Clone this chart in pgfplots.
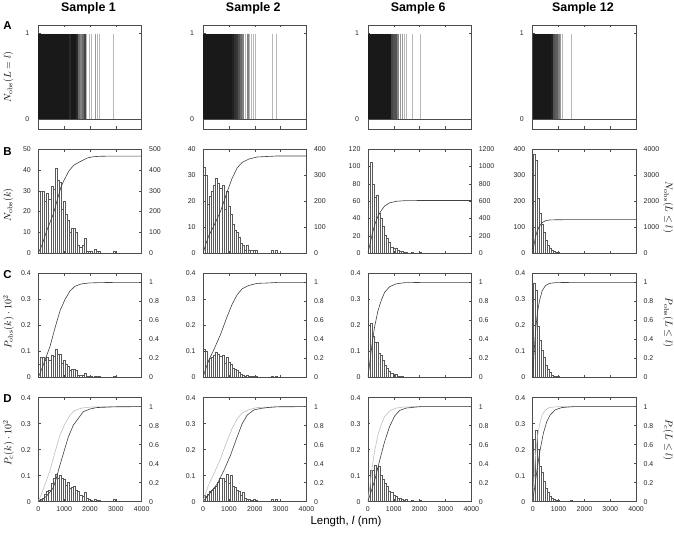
\documentclass[border=0pt]{standalone}
\usepackage[no-math]{fontspec}
\setmainfont{Liberation Sans}
\usepackage{pgfplots}
\usepackage{pgfplotstable}
\pgfplotsset{compat=1.18}

% ---------- histograms: bin centre, count (B), P_obs*100 (C), P_c*100 (D)
\pgfplotstableread{
x n pC pD
40 20 0.052 0.005
120 30 0.078 0.010
200 30 0.078 0.015
280 25 0.065 0.030
360 29 0.076 0.040
440 26 0.068 0.045
520 32 0.084 0.070
600 31 0.081 0.090
680 41 0.107 0.105
760 35 0.091 0.090
840 34 0.089 0.100
920 21 0.055 0.090
1000 25 0.065 0.085
1080 19 0.050 0.065
1160 16 0.042 0.075
1240 10 0.026 0.050
1320 12 0.031 0.055
1400 12 0.031 0.060
1480 10 0.026 0.045
1560 4 0.010 0.040
1640 3 0.008 0.025
1720 4 0.010 0.020
1800 7 0.018 0.035
1880 1 0.003 0.015
1960 1 0.003 0.010
2040 1 0.003 0.005
2200 2 0.005 0.010
2280 1 0.003 0.005
2360 1 0.003 0.005
2920 1 0.003 0.010
}\hA
\pgfplotstableread{
x n pC pD
40 33 0.109 0.025
120 30 0.099 0.020
200 19 0.063 0.030
280 22 0.073 0.040
360 24 0.079 0.045
440 26 0.086 0.050
520 29 0.096 0.060
600 27 0.089 0.075
680 25 0.083 0.090
760 26 0.086 0.090
840 17 0.056 0.080
920 24 0.079 0.105
1000 18 0.059 0.070
1080 15 0.050 0.100
1160 11 0.036 0.060
1240 9 0.030 0.055
1320 8 0.026 0.045
1400 6 0.020 0.040
1480 4 0.013 0.025
1560 3 0.010 0.035
1640 1 0.003 0.015
1720 3 0.010 0.010
1800 1 0.003 0.010
1880 1 0.003 0.005
1960 1 0.003 0.010
2040 1 0.003 0.005
2680 1 0.003 0.010
2840 1 0.003 0.010
}\hB
\pgfplotstableread{
x n pC pD
40 100 0.200 0.100
120 105 0.210 0.120
200 80 0.160 0.120
280 65 0.135 0.140
360 67 0.135 0.130
440 46 0.095 0.135
520 40 0.085 0.100
600 31 0.068 0.085
680 21 0.048 0.070
760 17 0.035 0.060
840 13 0.025 0.040
920 7 0.015 0.035
1000 6 0.012 0.025
1080 6 0.012 0.020
1160 3 0.006 0.015
1240 2 0.004 0.015
1320 2 0.004 0.010
1400 1 0.002 0.005
1480 1 0.002 0.010
1720 1 0.002 0.005
2040 1 0.002 0.005
}\hC
\pgfplotstableread{
x n pC pD
40 382 0.362 0.240
120 356 0.337 0.275
200 210 0.197 0.200
280 155 0.145 0.135
360 113 0.106 0.115
440 82 0.078 0.080
520 51 0.048 0.050
600 32 0.030 0.035
680 21 0.020 0.020
760 11 0.010 0.012
840 6 0.005 0.010
920 5 0.005 0.005
1000 3 0.003 0.005
1080 2 0.002 0.003
1160 1 0.001 0.003
1480 1 0.001 0.005
}\hD

% ---------- cumulative counts (B)
\pgfplotstableread{
x y
0 0
160 45
323 107
580 188
720 250
877 318
1000 352
1187 396
1380 424
1613 440
1900 458
2130 464
2400 466
2950 467
4000 467
}\bA
\pgfplotstableread{
x y
0 0
100 34
219 67
413 105
671 160
929 235
1123 288
1316 328
1510 349
1768 362
2090 370
2477 372
2700 373
2850 374
4000 374
}\bB
\pgfplotstableread{
x y
0 0
80 103
160 213
258 322
387 426
516 492
645 544
839 581
1097 599
1419 606
2065 608
4000 608
}\bC
\pgfplotstableread{
x y
0 0
52 329
103 606
181 877
258 1032
361 1174
490 1245
645 1277
903 1287
1480 1290
4000 1290
}\bD

% ---------- cumulative fractions, observed (C and grey curve in D)
\pgfplotstableread{
x y
0 0
130 0.085
258 0.18
452 0.325
645 0.52
839 0.70
1032 0.82
1226 0.91
1419 0.96
1677 0.985
2000 0.995
2400 0.998
2950 1
4000 1
}\fA
\pgfplotstableread{
x y
0 0
100 0.09
219 0.18
413 0.29
671 0.45
929 0.64
1123 0.77
1316 0.87
1510 0.933
1768 0.968
2090 0.99
2477 0.994
2700 0.997
2850 1
4000 1
}\fB
\pgfplotstableread{
x y
0 0
80 0.17
160 0.35
258 0.53
387 0.70
516 0.81
645 0.895
839 0.955
1097 0.985
1419 0.997
2065 1
4000 1
}\fC
\pgfplotstableread{
x y
0 0
52 0.255
103 0.47
181 0.68
258 0.80
361 0.91
490 0.965
645 0.99
903 0.998
1480 1
4000 1
}\fD

% ---------- cumulative fractions, corrected (black curve in D)
\pgfplotstableread{
x y
0 0
160 0.02
323 0.06
450 0.10
581 0.149
680 0.23
774 0.326
968 0.504
1161 0.68
1355 0.805
1548 0.876
1742 0.947
2000 0.975
2258 0.99
2950 0.998
4000 1
}\dA
\pgfplotstableread{
x y
0 0
284 0.096
542 0.184
800 0.326
1058 0.486
1316 0.68
1510 0.82
1703 0.91
1961 0.965
2219 0.98
2477 0.99
2865 0.998
4000 1
}\dB
\pgfplotstableread{
x y
0 0
129 0.11
258 0.22
452 0.43
645 0.63
839 0.79
1032 0.90
1226 0.96
1484 0.985
1871 0.996
2065 1
4000 1
}\dC
\pgfplotstableread{
x y
0 0
90 0.18
181 0.36
284 0.54
413 0.72
542 0.84
671 0.91
864 0.965
1123 0.99
1445 0.997
1600 1
4000 1
}\dD

\pgfplotsset{
  base/.style={scale only axis, width=103.4bp, height=104bp, anchor=south west,
    xmin=0, xmax=4000, xtick={0,1000,2000,3000,4000},
    tick align=inside, major tick length=2.5bp,
    axis line style={draw=black!70, line width=0.6bp},
    every tick/.style={draw=black!70, line width=0.45bp},
    tick label style={font=\fontsize{7}{8}\selectfont, text=black!85},
    /pgf/number format/assume math mode=true,
    /pgf/number format/1000 sep={}, scaled ticks=false},
  leftax/.style={base, ytick pos=left, xtick pos=both, axis on top,
    yticklabel style={xshift=-4bp}},
  rightax/.style={base, hide x axis, ytick pos=right,
    yticklabel style={xshift=4bp}},
  nox/.style={xticklabels={}},
  withx/.style={xticklabels={0,1000,2000,3000,4000}, xticklabel style={yshift=-1.3bp}},
  bars/.style={ybar, bar width=80, bar shift=0pt, draw=black!65, fill=white, line width=0.35bp},
  cum/.style={black!75, line width=0.6bp, mark=none},
  cumg/.style={black!25, line width=0.6bp, mark=none},
  lines/.style={scatter, only marks, mark=|, mark size=42.62bp,
    scatter/use mapped color={draw=mapped color, fill=mapped color},
    point meta={min(\thisrow{n},12)}},
}

\newcommand\panelA[2]{%
\begin{axis}[base, at={(#1bp,405bp)}, ymin=-0.12, ymax=1.10, ytick={0,1},
  ytick pos=both, yticklabel pos=left, xtick pos=both, nox,
  yticklabel style={xshift=-5.5bp},
  colormap={agray}{gray(0bp)=(0.86); gray(1bp)=(0.72); gray(2bp)=(0.6); gray(4bp)=(0.42); gray(8bp)=(0.22); gray(12bp)=(0.1)},
  point meta min=0, point meta max=12]
\addplot[lines, mark options={line width=2.1bp},
  restrict expr to domain={\thisrow{n}}{3:100000}] table[x=x, y expr=0.5] {#2};
\addplot[lines, mark options={line width=0.9bp},
  restrict expr to domain={\thisrow{n}}{0:2.5}] table[x=x, y expr=0.5] {#2};
\addplot[black!70, line width=0.5bp] coordinates {(0,0) (4000,0)};
\end{axis}}

\newcommand\panelB[7]{%
\begin{axis}[leftax, nox, at={(#1bp,280.8bp)}, ymin=0, ymax=#2, ytick={#3}]
\addplot[bars] table[x=x, y=n] {#6};
\end{axis}
\begin{axis}[rightax, at={(#1bp,280.8bp)}, ymin=0, ymax=#4, ytick={#5}]
\addplot[cum] table[x=x, y=y] {#7};
\end{axis}}

\newcommand\panelC[3]{%
\begin{axis}[leftax, nox, at={(#1bp,156.6bp)}, ymin=0, ymax=0.4, ytick={0,0.1,0.2,0.3,0.4}]
\addplot[bars] table[x=x, y=pC] {#2};
\end{axis}
\begin{axis}[rightax, at={(#1bp,156.6bp)}, ymin=0, ymax=1.095, ytick={0,0.2,0.4,0.6,0.8,1}]
\addplot[cum] table[x=x, y=y] {#3};
\end{axis}}

\newcommand\panelD[4]{%
\begin{axis}[leftax, withx, at={(#1bp,32.4bp)}, ymin=0, ymax=0.4, ytick={0,0.1,0.2,0.3,0.4}]
\addplot[bars] table[x=x, y=pD] {#2};
\end{axis}
\begin{axis}[rightax, at={(#1bp,32.4bp)}, ymin=0, ymax=1.095, ytick={0,0.2,0.4,0.6,0.8,1}]
\addplot[cumg] table[x=x, y=y] {#3};
\addplot[cum] table[x=x, y=y] {#4};
\end{axis}}

\begin{document}
\begin{tikzpicture}
\path[use as bounding box] (0,0) rectangle (674bp,534bp);

\panelA{38.3}{\hA}
\panelA{203.1}{\hB}
\panelA{367.9}{\hC}
\panelA{532.7}{\hD}

\panelB{38.3}{50}{0,10,20,30,40,50}{500}{0,100,200,300,400,500}{\hA}{\bA}
\panelB{203.1}{40}{0,10,20,30,40}{400}{0,100,200,300,400}{\hB}{\bB}
\panelB{367.9}{120}{0,20,40,60,80,100,120}{1200}{0,200,400,600,800,1000,1200}{\hC}{\bC}
\panelB{532.7}{400}{0,100,200,300,400}{4000}{0,1000,2000,3000,4000}{\hD}{\bD}

\panelC{38.3}{\hA}{\fA}
\panelC{203.1}{\hB}{\fB}
\panelC{367.9}{\hC}{\fC}
\panelC{532.7}{\hD}{\fD}

\panelD{38.3}{\hA}{\fA}{\dA}
\panelD{203.1}{\hB}{\fB}{\dB}
\panelD{367.9}{\hC}{\fC}{\dC}
\panelD{532.7}{\hD}{\fD}{\dD}

% titles
\foreach \cx/\t in {88.5/1, 253.3/2, 418.1/6, 582.9/12}
  \node[anchor=base, font=\bfseries\fontsize{12.5}{14}\selectfont] at (\cx bp,522.5bp) {Sample \t};
% panel letters
\foreach \yy/\l in {504/A, 378.5/B, 255.7/C, 131.7/D}
  \node[anchor=base west, inner sep=0pt, font=\bfseries\fontsize{11.5}{13}\selectfont] at (3.3bp,\yy bp) {\l};
% left labels
\node[rotate=90, font=\fontsize{10}{12}\selectfont] at (8.5bp,457bp) {$N_{\mathrm{obs}}(L = l)$};
\node[rotate=90, font=\fontsize{10}{12}\selectfont] at (8.5bp,329bp) {$N_{\mathrm{obs}}(k)$};
\node[rotate=90, font=\fontsize{10}{12}\selectfont] at (8.5bp,212bp) {$P_{\mathrm{obs}}(k)\cdot 10^{2}$};
\node[rotate=90, font=\fontsize{10}{12}\selectfont] at (8.5bp,91bp) {$P_{c}(k)\cdot 10^{2}$};
% right labels
\node[rotate=-90, font=\fontsize{10}{12}\selectfont] at (668bp,326.5bp) {$N_{\mathrm{obs}}(L \leq l)$};
\node[rotate=-90, font=\fontsize{10}{12}\selectfont] at (668bp,211.5bp) {$P_{\mathrm{obs}}(L \leq l)$};
\node[rotate=-90, font=\fontsize{10}{12}\selectfont] at (668bp,94bp) {$P_{c}(L \leq l)$};
% x label
\node[font=\fontsize{11.5}{13}\selectfont] at (346bp,12bp) {Length, \textit{l} (nm)};
\end{tikzpicture}
\end{document}
